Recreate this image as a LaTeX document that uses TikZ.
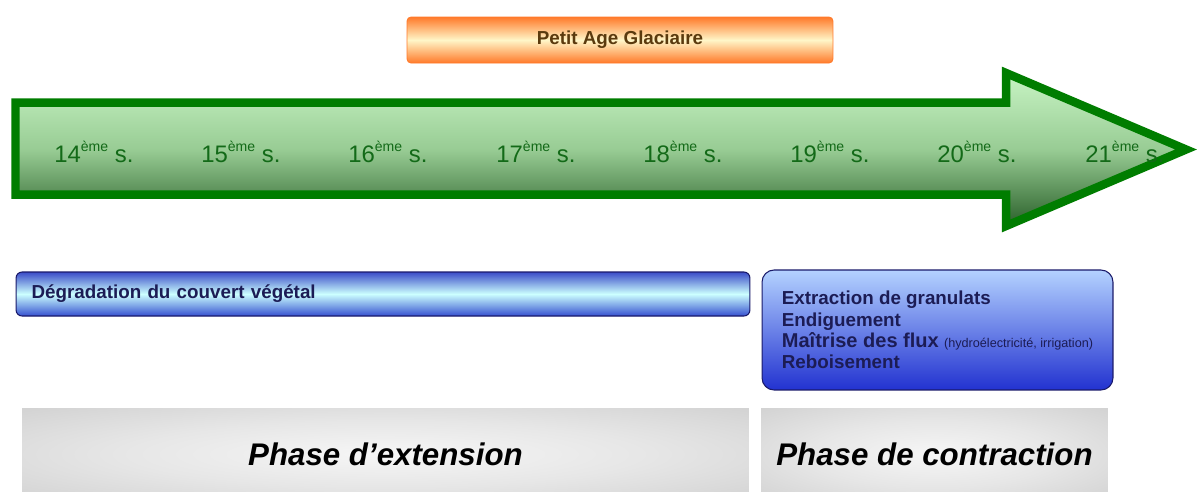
\documentclass[tikz,border=0pt]{standalone}
\usepackage{fontspec}
\setmainfont{Liberation Sans}
\usepackage{tikz}
\usepackage{xcolor}

\definecolor{flechevert}{HTML}{007D00}
\definecolor{vertclair}{HTML}{C8F4C4}
\definecolor{vertmilieu}{HTML}{98CC94}
\definecolor{vertfonce}{HTML}{2A602A}
\definecolor{textevert}{HTML}{136A18}
\definecolor{orangebord}{HTML}{FF7A2A}
\definecolor{orangecentre}{HTML}{FFF6C8}
\definecolor{textebrun}{HTML}{5A3A0E}
\definecolor{bleuhaut}{HTML}{3A4CC8}
\definecolor{cyanclair}{HTML}{CCFFFF}
\definecolor{bleubas}{HTML}{3550D0}
\definecolor{bleuciel}{HTML}{B4D2FF}
\definecolor{bleuprofond}{HTML}{2232D0}
\definecolor{bleutrait}{HTML}{1A1A6A}
\definecolor{textebleu}{HTML}{1C1C55}
\definecolor{grisbord}{HTML}{C2C2C2}
\definecolor{grisclair}{HTML}{F6F6F6}

\pgfdeclareradialshading{lueur}{\pgfpoint{0bp}{0bp}}{%
  color(0bp)=(grisclair); color(18bp)=(grisclair!70!grisbord); color(50bp)=(grisbord)}

\newcommand{\sieclesup}{\raisebox{5.8pt}{\fontsize{8}{8}\selectfont ème}}

\begin{document}
\begin{tikzpicture}[
  x=0.02cm, y=-0.02cm,
  fleche/.style={draw=flechevert, line width=0.17cm, line join=miter,
    top color=vertclair, bottom color=vertfonce, middle color=vertmilieu},
  siecle/.style={anchor=base west, inner sep=0pt, text=textevert,
    font=\fontsize{13.6}{16}\selectfont},
  glaciaire/.style={draw=orangebord, line width=0.5pt, rounded corners=0.08cm,
    minimum width=8.52cm, minimum height=0.92cm,
    top color=orangebord, bottom color=orangebord, middle color=orangecentre,
    text=textebrun, font=\fontsize{10.7}{12}\selectfont\bfseries},
  bande/.style={draw=bleutrait, line width=0.6pt, text=textebleu,
    font=\fontsize{10.7}{12.2}\selectfont\bfseries},
  phase/.style={shade, shading=lueur, inner sep=0pt, minimum height=1.84cm,
    text=black, font=\fontsize{17.8}{20}\selectfont\bfseries\itshape},
]
\useasboundingbox (0,0) rectangle (1200,491);
\clip (0,0) rectangle (1200,491);
% Fleche du temps
\draw[fleche] (15.5,102.5) -- (1006,102.5) -- (1006,73) -- (1186,149.5)
  -- (1006,226) -- (1006,194.5) -- (15.5,194.5) -- cycle;
\node[siecle] (s14) at (54,162)   {14\sieclesup{} s.};
\node[siecle] (s15) at (201,162)  {15\sieclesup{} s.};
\node[siecle] (s16) at (348,162)  {16\sieclesup{} s.};
\node[siecle] (s17) at (496,162)  {17\sieclesup{} s.};
\node[siecle] (s18) at (643,162)  {18\sieclesup{} s.};
\node[siecle] (s19) at (790,162)  {19\sieclesup{} s.};
\node[siecle] (s20) at (937,162)  {20\sieclesup{} s.};
\node[siecle] (s21) at (1085,162) {21\sieclesup{} s.};
% Petit Age Glaciaire
\node[glaciaire] (pag) at (620,40) {Petit Age Glaciaire};
% Causes
\node[bande, rounded corners=0.12cm, minimum width=14.68cm, minimum height=0.88cm,
  text width=14.06cm, inner xsep=0.31cm, align=left,
  top color=bleuhaut, bottom color=bleubas, middle color=cyanclair]
  (degradation) at (383,294) {Dégradation du couvert végétal};
\node[bande, rounded corners=0.24cm, minimum width=7.02cm, minimum height=2.4cm,
  align=left, top color=bleuciel, bottom color=bleuprofond]
  (amenagements) at (937.5,330) {Extraction de granulats\\
  Endiguement\\
  {\fontsize{11.4}{12.2}\selectfont Maîtrise des flux}
  {\fontsize{7.2}{8}\selectfont\mdseries (hydroélectricité, irrigation)}\\
  Reboisement};
% Phases
\node[phase, minimum width=14.54cm] (extension) at (385.5,454) {Phase d’extension};
\node[phase, minimum width=6.94cm] (contraction) at (934.5,454) {Phase de contraction};
\end{tikzpicture}
\end{document}
